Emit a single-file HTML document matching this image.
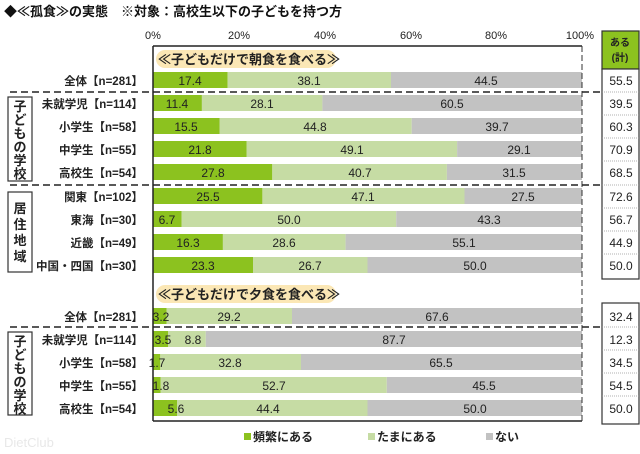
<!DOCTYPE html>
<html><head><meta charset="utf-8"><style>
html,body{margin:0;padding:0;background:#fff}
svg{display:block}
text{font-family:"Liberation Sans","Noto Sans CJK JP",sans-serif;}
.l{font-size:11.5px;font-weight:bold;fill:#222;text-anchor:end}
.v{font-size:12px;fill:#222;text-anchor:middle}
.ax{font-size:11px;fill:#222;text-anchor:middle}
.g{fill:#8cc21f}.lg{fill:#c6dca4}.gr{fill:#c2c2c2}
.vt{font-size:13px;font-weight:bold;fill:#222}
</style></head><body>
<svg width="640" height="454" viewBox="0 0 640 454">
<text x="4" y="16" style="font-size:13px;font-weight:bold;fill:#111">◆≪孤食≫の実態　※対象：高校生以下の子どもを持つ方</text>
<g class="ax"><text x="153" y="39">0%</text><text x="239" y="39">20%</text><text x="325" y="39">40%</text><text x="411" y="39">60%</text><text x="496" y="39">80%</text><text x="580" y="39">100%</text></g>
<rect x="156" y="50" width="180" height="18" rx="9" fill="#fbe7b5"/>
<text x="158" y="64" style="font-size:13px;font-weight:bold;fill:#222">≪子どもだけで朝食を食べる≫</text>
<rect x="156" y="285" width="180" height="18" rx="9" fill="#fbe7b5"/>
<text x="158" y="299" style="font-size:13px;font-weight:bold;fill:#222">≪子どもだけで夕食を食べる≫</text>
<g>
<rect class="g" x="153" y="72" width="74.6" height="16"/><rect class="lg" x="227.6" y="72" width="163.4" height="16"/><rect class="gr" x="391" y="72" width="191" height="16"/>
<rect class="g" x="153" y="95" width="48.9" height="16"/><rect class="lg" x="201.9" y="95" width="120.5" height="16"/><rect class="gr" x="322.4" y="95" width="259.6" height="16"/>
<rect class="g" x="153" y="118" width="66.5" height="16"/><rect class="lg" x="219.5" y="118" width="192.2" height="16"/><rect class="gr" x="411.7" y="118" width="170.3" height="16"/>
<rect class="g" x="153" y="141" width="93.5" height="16"/><rect class="lg" x="246.5" y="141" width="210.6" height="16"/><rect class="gr" x="457.1" y="141" width="124.9" height="16"/>
<rect class="g" x="153" y="164" width="119.3" height="16"/><rect class="lg" x="272.3" y="164" width="174.6" height="16"/><rect class="gr" x="446.9" y="164" width="135.1" height="16"/>
<rect class="g" x="153" y="188" width="109.4" height="16"/><rect class="lg" x="262.4" y="188" width="202.1" height="16"/><rect class="gr" x="464.5" y="188" width="117.5" height="16"/>
<rect class="g" x="153" y="211" width="28.7" height="16"/><rect class="lg" x="181.7" y="211" width="214.5" height="16"/><rect class="gr" x="396.2" y="211" width="185.8" height="16"/>
<rect class="g" x="153" y="234" width="69.9" height="16"/><rect class="lg" x="222.9" y="234" width="122.7" height="16"/><rect class="gr" x="345.6" y="234" width="236.4" height="16"/>
<rect class="g" x="153" y="257" width="100" height="16"/><rect class="lg" x="253" y="257" width="114.5" height="16"/><rect class="gr" x="367.5" y="257" width="214.5" height="16"/>
<rect class="g" x="153" y="308" width="13.7" height="16"/><rect class="lg" x="166.7" y="308" width="125.3" height="16"/><rect class="gr" x="292" y="308" width="290" height="16"/>
<rect class="g" x="153" y="331" width="15" height="16"/><rect class="lg" x="168" y="331" width="37.8" height="16"/><rect class="gr" x="205.8" y="331" width="376.2" height="16"/>
<rect class="g" x="153" y="354" width="7.3" height="16"/><rect class="lg" x="160.3" y="354" width="140.7" height="16"/><rect class="gr" x="301" y="354" width="281" height="16"/>
<rect class="g" x="153" y="377" width="7.7" height="16"/><rect class="lg" x="160.7" y="377" width="226.1" height="16"/><rect class="gr" x="386.8" y="377" width="195.2" height="16"/>
<rect class="g" x="153" y="400" width="24" height="16"/><rect class="lg" x="177" y="400" width="190.5" height="16"/><rect class="gr" x="367.5" y="400" width="214.5" height="16"/>
</g>
<g class="v">
<text x="190" y="85">17.4</text><text x="309" y="85">38.1</text><text x="486" y="85">44.5</text>
<text x="177" y="108">11.4</text><text x="262" y="108">28.1</text><text x="452" y="108">60.5</text>
<text x="186" y="131">15.5</text><text x="315" y="131">44.8</text><text x="497" y="131">39.7</text>
<text x="200" y="154">21.8</text><text x="352" y="154">49.1</text><text x="519" y="154">29.1</text>
<text x="213" y="177">27.8</text><text x="360" y="177">40.7</text><text x="514" y="177">31.5</text>
<text x="208" y="201">25.5</text><text x="363" y="201">47.1</text><text x="523" y="201">27.5</text>
<text x="167" y="224">6.7</text><text x="289" y="224">50.0</text><text x="489" y="224">43.3</text>
<text x="188" y="247">16.3</text><text x="284" y="247">28.6</text><text x="464" y="247">55.1</text>
<text x="203" y="270">23.3</text><text x="310" y="270">26.7</text><text x="475" y="270">50.0</text>
<text x="161" y="321">3.2</text><text x="229" y="321">29.2</text><text x="437" y="321">67.6</text>
<text x="163" y="344">3.5</text><text x="193" y="344">8.8</text><text x="394" y="344">87.7</text>
<text x="157" y="367">1.7</text><text x="230" y="367">32.8</text><text x="441" y="367">65.5</text>
<text x="161" y="390">1.8</text><text x="274" y="390">52.7</text><text x="484" y="390">45.5</text>
<text x="176" y="413">5.6</text><text x="268" y="413">44.4</text><text x="475" y="413">50.0</text>
</g>
<line x1="153" y1="46" x2="582" y2="46" stroke="#222" stroke-width="1.5"/>
<line x1="153" y1="46" x2="153" y2="421" stroke="#222" stroke-width="1.5"/>
<line x1="153" y1="421" x2="582" y2="421" stroke="#222" stroke-width="1.5"/>
<line x1="582" y1="46" x2="582" y2="421" stroke="#333" stroke-width="1" stroke-dasharray="6,3"/>
<g stroke="#222" stroke-width="1.5" stroke-dasharray="7,4">
<line x1="10" y1="92" x2="600" y2="92"/><line x1="10" y1="185" x2="600" y2="185"/><line x1="10" y1="327" x2="600" y2="327"/>
</g>
<g class="l">
<text x="143" y="85">全体【n=281】</text>
<text x="143" y="108">未就学児【n=114】</text>
<text x="143" y="131">小学生【n=58】</text>
<text x="143" y="154">中学生【n=55】</text>
<text x="143" y="177">高校生【n=54】</text>
<text x="143" y="201">関東【n=102】</text>
<text x="143" y="224">東海【n=30】</text>
<text x="143" y="247">近畿【n=49】</text>
<text x="143" y="270">中国・四国【n=30】</text>
<text x="143" y="321">全体【n=281】</text>
<text x="143" y="344">未就学児【n=114】</text>
<text x="143" y="367">小学生【n=58】</text>
<text x="143" y="390">中学生【n=55】</text>
<text x="143" y="413">高校生【n=54】</text>
</g>
<g fill="#fff" stroke="#333" stroke-width="1.2">
<rect x="8" y="97" width="24" height="84"/><rect x="8" y="192" width="24" height="80"/><rect x="8" y="332" width="24" height="83"/>
</g>
<g class="vt" text-anchor="middle">
<text x="20" y="111">子</text><text x="20" y="124.5">ど</text><text x="20" y="138">も</text><text x="20" y="151.5">の</text><text x="20" y="165">学</text><text x="20" y="178.5">校</text>
<text x="20" y="213">居</text><text x="20" y="229">住</text><text x="20" y="245">地</text><text x="20" y="261">域</text>
<text x="20" y="346">子</text><text x="20" y="359.5">ど</text><text x="20" y="373">も</text><text x="20" y="386.5">の</text><text x="20" y="400">学</text><text x="20" y="413.5">校</text>
</g>
<rect x="602" y="31" width="37" height="38" fill="#8cc21f" stroke="#333" stroke-width="1.2"/>
<text x="620" y="46" text-anchor="middle" style="font-size:10px;font-weight:bold;fill:#222">ある</text>
<text x="620" y="61" text-anchor="middle" style="font-size:10px;font-weight:bold;fill:#222">(計)</text>
<rect x="602" y="69" width="37" height="210" fill="#fff" stroke="#333" stroke-width="1.2"/>
<rect x="602" y="303" width="37" height="121" fill="#fff" stroke="#333" stroke-width="1.2"/>
<g stroke="#999" stroke-width="0.8" stroke-dasharray="1,1">
<line x1="602" y1="92" x2="639" y2="92"/><line x1="602" y1="115" x2="639" y2="115"/><line x1="602" y1="138" x2="639" y2="138"/><line x1="602" y1="161" x2="639" y2="161"/><line x1="602" y1="185" x2="639" y2="185"/><line x1="602" y1="208" x2="639" y2="208"/><line x1="602" y1="231" x2="639" y2="231"/><line x1="602" y1="254" x2="639" y2="254"/>
<line x1="602" y1="327" x2="639" y2="327"/><line x1="602" y1="350" x2="639" y2="350"/><line x1="602" y1="373" x2="639" y2="373"/><line x1="602" y1="396" x2="639" y2="396"/>
</g>
<g class="v">
<text x="621" y="85">55.5</text><text x="621" y="108">39.5</text><text x="621" y="131">60.3</text><text x="621" y="154">70.9</text><text x="621" y="177">68.5</text>
<text x="621" y="201">72.6</text><text x="621" y="224">56.7</text><text x="621" y="247">44.9</text><text x="621" y="270">50.0</text>
<text x="621" y="321">32.4</text><text x="621" y="344">12.3</text><text x="621" y="367">34.5</text><text x="621" y="390">54.5</text><text x="621" y="413">50.0</text>
</g>
<rect x="244" y="433" width="7" height="7" class="g"/><text x="253" y="441" style="font-size:12px;font-weight:bold;fill:#222">頻繁にある</text>
<rect x="368" y="433" width="7" height="7" class="lg"/><text x="377" y="441" style="font-size:12px;font-weight:bold;fill:#222">たまにある</text>
<rect x="486" y="433" width="7" height="7" class="gr"/><text x="495" y="441" style="font-size:12px;font-weight:bold;fill:#222">ない</text>
<text x="4" y="447" style="font-size:13px;fill:#e8e8e8">DietClub</text>
</svg>
</body></html>
